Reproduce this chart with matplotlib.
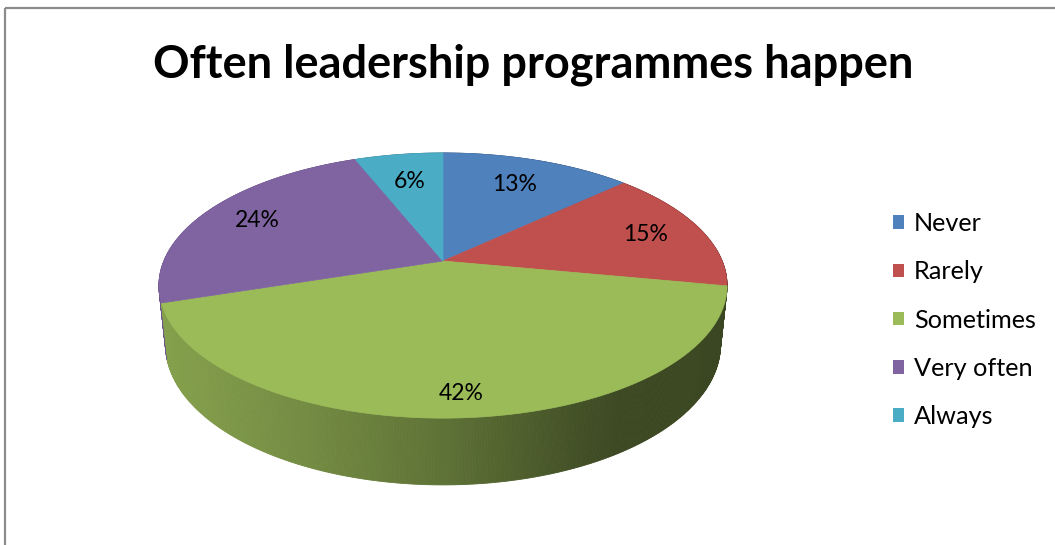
import numpy as np
import matplotlib
matplotlib.use("Agg")
import matplotlib.pyplot as plt
from matplotlib.patches import Polygon, Patch
from matplotlib.colors import to_rgb

# ---- data ----
categories = ["Never", "Rarely", "Sometimes", "Very often", "Always"]
shares = [13, 15, 42, 24, 6]
slice_colors = ["#4F81BD", "#C0504D", "#9BBB59", "#8064A2", "#4BACC6"]
title = "Often leadership programmes happen"

# ---- styling / layout ----
plt.rcParams["font.family"] = ["Lato", "DejaVu Sans"]
W, H = 1055, 545
CX, CY = 443.0, 261.0          # screen position of the pie centre
ELEV = np.radians(27.3)        # camera elevation
DIST = 4.8                     # camera distance (in pie radii)
FOCAL = 1340.0                 # projection scale
THICK = 0.24                   # pie thickness (in pie radii)
label_r = [0.73, 0.785, 0.87, 0.78, 0.71]   # radial position of value labels


def project(r, t, z):
    """Perspective projection of a point on the pie (polar r, angle t
    clockwise from 12 o'clock, height z) to screen pixels."""
    x = r * np.sin(t)
    y = r * np.cos(t)
    depth = DIST + y * np.cos(ELEV) - z * np.sin(ELEV)
    up = y * np.sin(ELEV) + z * np.cos(ELEV)
    return CX + FOCAL * x / depth, CY - FOCAL * up / depth


def wall_shade(xpix):
    return np.interp(xpix, [160, 300, 443, 580, 620, 730],
                     [0.86, 0.75, 0.61, 0.43, 0.39, 0.38])


fig = plt.figure(figsize=(W / 100, H / 100), dpi=100)
ax = fig.add_axes([0, 0, 1, 1])
ax.set_xlim(0, W)
ax.set_ylim(H, 0)
ax.axis("off")

# chart-area border (top and left edges)
ax.plot([5, W], [8, 8], color="#8c8c8c", lw=1.6, solid_capstyle="butt")
ax.plot([5, 5], [8, H], color="#8c8c8c", lw=1.6, solid_capstyle="butt")

total = float(sum(shares))
bounds = np.concatenate([[0.0], np.cumsum(shares) / total]) * 2 * np.pi

# ---- side walls (drawn far-to-near, covered later by the top faces) ----
quads = []
for i, col in enumerate(slice_colors):
    t1, t2 = bounds[i], bounds[i + 1]
    n = max(int(np.degrees(t2 - t1) * 2), 2)
    ts = np.linspace(t1, t2, n + 1)
    base = np.array(to_rgb(col))
    for a, b in zip(ts[:-1], ts[1:]):
        xa0, ya0 = project(1, a, 0)
        xb0, yb0 = project(1, b, 0)
        xb1, yb1 = project(1, b, -THICK)
        xa1, ya1 = project(1, a, -THICK)
        shade = wall_shade((xa0 + xb0) / 2)
        c = np.clip(base * shade, 0, 1)
        quads.append((np.cos((a + b) / 2),
                      [(xa0, ya0), (xb0, yb0), (xb1, yb1), (xa1, ya1)], c))
quads.sort(key=lambda q: -q[0])
for _, pts, c in quads:
    ax.add_patch(Polygon(pts, closed=True, facecolor=c, edgecolor=c,
                         lw=0.6, zorder=1))

# ---- top faces ----
for i, col in enumerate(slice_colors):
    t1, t2 = bounds[i], bounds[i + 1]
    ts = np.linspace(t1, t2, max(int(np.degrees(t2 - t1) * 2), 2) + 1)
    xs, ys = project(1, ts, 0)
    pts = [(CX, CY)] + list(zip(xs, ys))
    ax.add_patch(Polygon(pts, closed=True, facecolor=col, edgecolor=col,
                         lw=0.5, zorder=2))

# ---- value labels ----
for i, v in enumerate(shares):
    tm = (bounds[i] + bounds[i + 1]) / 2
    lx, ly = project(label_r[i], tm, 0)
    ax.text(lx, ly, f"{v}%", ha="center", va="center", fontsize=16.5,
            color="black", zorder=3)

# ---- title ----
ax.text(533, 77, title, ha="center", va="baseline", fontsize=32.5,
        fontweight="bold", color="black")

# ---- legend ----
handles = [Patch(facecolor=c, edgecolor="none") for c in slice_colors]
fig.legend(handles, categories, loc="upper left",
           bbox_to_anchor=(893 / W, 1 - 212 / H), frameon=False,
           fontsize=18.2, handlelength=0.44, handleheight=0.44,
           handletextpad=0.4, labelspacing=1.0, borderpad=0,
           borderaxespad=0)

fig.savefig("out.png", dpi=100)
